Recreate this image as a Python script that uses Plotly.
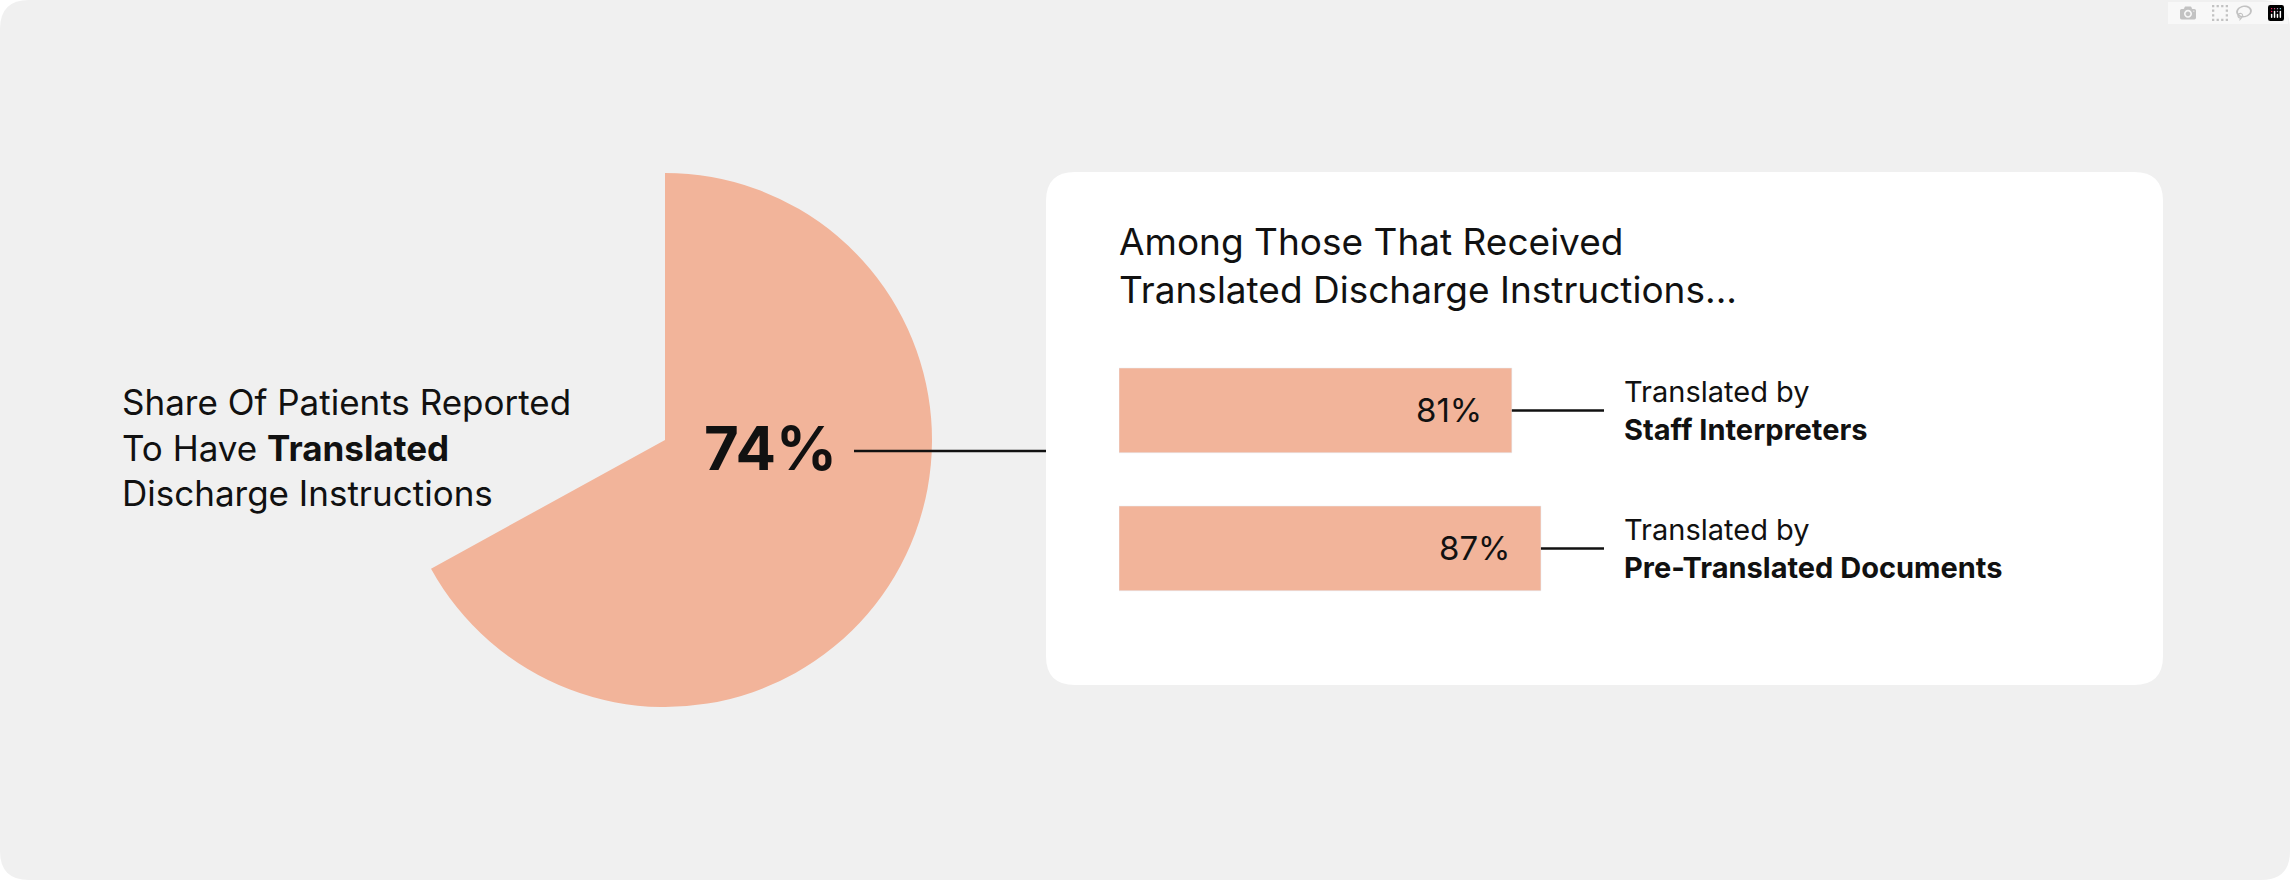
import plotly.graph_objects as go

W, H = 2290, 880

# data
share_label = "74%"
share_wedge = 67  # wedge size as drawn in the picture
bar_labels = ["Staff Interpreters", "Pre-Translated Documents"]
bar_values = [81, 87]
bar_text = ["81%", "87%"]

peach = "#F2B49A"
font = "Inter, Roboto, sans-serif"


def px(x):
    return x / W


def py(y):
    return 1 - y / H


def rounded(x0, y0, x1, y1, r):
    # rounded rectangle in pixel coords -> paper path
    pts = [
        f"M {px(x0 + r)} {py(y0)}",
        f"L {px(x1 - r)} {py(y0)}",
        f"Q {px(x1)} {py(y0)} {px(x1)} {py(y0 + r)}",
        f"L {px(x1)} {py(y1 - r)}",
        f"Q {px(x1)} {py(y1)} {px(x1 - r)} {py(y1)}",
        f"L {px(x0 + r)} {py(y1)}",
        f"Q {px(x0)} {py(y1)} {px(x0)} {py(y1 - r)}",
        f"L {px(x0)} {py(y0 + r)}",
        f"Q {px(x0)} {py(y0)} {px(x0 + r)} {py(y0)}",
        "Z",
    ]
    return " ".join(pts)


fig = go.Figure()

fig.add_trace(go.Pie(
    values=[share_wedge, 100 - share_wedge],
    marker=dict(colors=[peach, "rgba(0,0,0,0)"]),
    sort=False, direction="clockwise", rotation=0,
    textinfo="none", hoverinfo="skip", showlegend=False,
    domain=dict(x=[px(398), px(932)], y=[py(707), py(173)]),
))

fig.add_trace(go.Bar(
    x=bar_values, y=[0, 1], orientation="h",
    marker=dict(color=peach), width=0.614,
    hoverinfo="skip", showlegend=False,
))
# connector dots
fig.add_trace(go.Scatter(
    x=[110.5, 110.5], y=[0, 1], mode="markers",
    marker=dict(color="#111", size=15), hoverinfo="skip", showlegend=False,
))

shapes = [
    dict(type="path", xref="paper", yref="paper", path=rounded(0, 0, W, H, 29),
         fillcolor="#F0F0F0", line=dict(width=0), layer="below"),
    dict(type="path", xref="paper", yref="paper", path=rounded(1046, 172, 2163, 685, 29),
         fillcolor="white", line=dict(width=0), layer="below"),
    dict(type="line", xref="paper", yref="paper", x0=px(854), x1=px(1046), y0=py(451), y1=py(451),
         line=dict(color="#111", width=2.5)),
]
for i, v in enumerate(bar_values):
    shapes.append(dict(type="line", xref="x", yref="y", x0=v, x1=110.5, y0=i, y1=i,
                       line=dict(color="#111", width=2.5)))

annotations = [
    dict(x=px(120), y=py(448), xref="paper", yref="paper", xanchor="left", yanchor="middle",
         align="left", showarrow=False,
         text="Share Of Patients Reported<br>To Have <b>Translated</b><br>Discharge Instructions",
         font=dict(family=font, size=35, color="#111")),
    dict(x=px(770), y=py(448), xref="paper", yref="paper", showarrow=False,
         text="<b>" + share_label + "</b>", font=dict(family=font, size=60, color="#111")),
    dict(x=px(1117), y=py(265), xref="paper", yref="paper", xanchor="left", yanchor="middle",
         align="left", showarrow=False,
         text="Among Those That Received<br>Translated Discharge Instructions...",
         font=dict(family=font, size=37, color="#111")),
]
for i, lab in enumerate(bar_labels):
    annotations.append(dict(x=px(1622), y=i, xref="paper", yref="y", xanchor="left",
                            yanchor="middle", align="left", showarrow=False,
                            text="Translated by<br><b>" + lab + "</b>",
                            font=dict(family=font, size=29, color="#111")))
    annotations.append(dict(x=bar_values[i], y=i, xref="x", yref="y", xanchor="right",
                            yanchor="middle", xshift=-28, showarrow=False, text=bar_text[i],
                            font=dict(family=font, size=33, color="#111")))

fig.update_layout(
    width=W, height=H, margin=dict(l=0, r=0, t=0, b=0),
    paper_bgcolor="white", plot_bgcolor="rgba(0,0,0,0)",
    shapes=shapes, annotations=annotations,
    xaxis=dict(domain=[px(1119), px(1604)], range=[0, 100], visible=False, fixedrange=True),
    yaxis=dict(domain=[py(617.4), py(341.4)], range=[1.5, -0.5], visible=False, fixedrange=True),
)

fig.write_html("out.html", post_script="document.body.style.margin='0';document.body.style.overflow='hidden';")
